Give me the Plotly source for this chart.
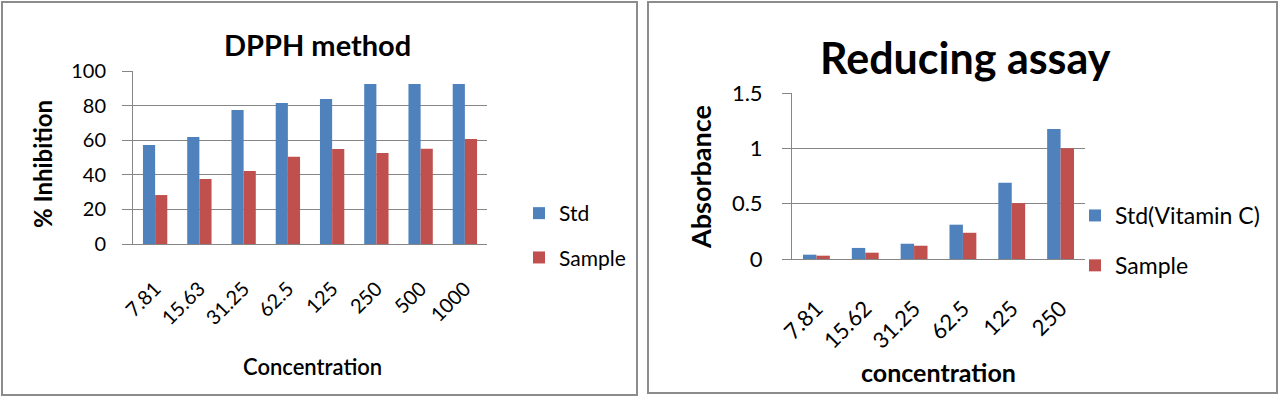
import plotly.graph_objects as go

# ---- data ----
dpph_conc = ["7.81", "15.63", "31.25", "62.5", "125", "250", "500", "1000"]
dpph_std = [57.2, 61.8, 77.5, 81.5, 83.8, 92.5, 92.5, 92.5]
dpph_sample = [28.3, 37.6, 42.2, 50.5, 54.9, 52.6, 55.0, 60.7]

red_conc = ["7.81", "15.62", "31.25", "62.5", "125", "250"]
red_std = [0.039, 0.10, 0.138, 0.31, 0.688, 1.174]
red_sample = [0.03, 0.057, 0.12, 0.237, 0.505, 1.0]

BLUE = "#4F81BD"
RED = "#C0504D"
GRID = "#868686"
FONT = "Lato, sans-serif"
W, H = 1279, 397


def px(x):
    return x / W


def py(y):
    return 1 - y / H


fig = go.Figure()

fig.add_trace(go.Bar(x=dpph_conc, y=dpph_std, name="Std", marker_color=BLUE,
                     xaxis="x", yaxis="y", legend="legend", legendgroup="a"))
fig.add_trace(go.Bar(x=dpph_conc, y=dpph_sample, name="Sample", marker_color=RED,
                     xaxis="x", yaxis="y", legend="legend", legendgroup="b"))
fig.add_trace(go.Bar(x=red_conc, y=red_std, name="Std(Vitamin C)", marker_color=BLUE,
                     xaxis="x2", yaxis="y2", legend="legend2", legendgroup="c"))
fig.add_trace(go.Bar(x=red_conc, y=red_sample, name="Sample", marker_color=RED,
                     xaxis="x2", yaxis="y2", legend="legend2", legendgroup="d"))

fig.update_layout(
    template="none",
    width=W, height=H, autosize=False,
    margin=dict(l=0, r=0, t=0, b=0, pad=0),
    paper_bgcolor="white", plot_bgcolor="white",
    font=dict(family=FONT, color="black"),
    barmode="group",
    bargap=0.45, bargroupgap=0,
    xaxis=dict(domain=[px(133), px(487)], anchor="y", type="category",
               automargin=False, tickangle=-45, tickfont=dict(size=20),
               showline=True, linecolor=GRID, linewidth=1.3, showgrid=False,
               ticks="outside", ticklen=24, tickcolor="rgba(0,0,0,0)"),
    yaxis=dict(domain=[py(244), py(71)], anchor="x", range=[0, 100], dtick=20,
               automargin=False, tickfont=dict(size=20), showline=True,
               linecolor=GRID, gridcolor=GRID, gridwidth=1.3, zeroline=False,
               ticks="outside", ticklen=10, tickcolor=GRID, ticklabelstandoff=12),
    xaxis2=dict(domain=[px(792), px(1085)], anchor="y2", type="category",
                automargin=False, tickangle=-45, tickfont=dict(size=22),
                showline=True, linecolor=GRID, showgrid=False,
                ticks="outside", ticklen=27, tickcolor="rgba(0,0,0,0)"),
    yaxis2=dict(domain=[py(259), py(93)], anchor="x2", range=[0, 1.5], dtick=0.5,
                automargin=False, tickfont=dict(size=22), showline=True,
                linecolor=GRID, gridcolor=GRID, zeroline=False,
                ticks="outside", ticklen=9, tickcolor=GRID, ticklabelstandoff=15),
    legend=dict(x=px(519), y=py(193), xanchor="left", yanchor="top",
                font=dict(size=21), tracegroupgap=14, bgcolor="rgba(0,0,0,0)"),
    legend2=dict(x=px(1075), y=py(194), xanchor="left", yanchor="top",
                 font=dict(size=23), tracegroupgap=17, bgcolor="rgba(0,0,0,0)"),
    annotations=[
        dict(text="<b>DPPH method</b>", x=px(317), y=py(44), xref="paper", yref="paper",
             showarrow=False, font=dict(size=29), xanchor="center", yanchor="middle"),
        dict(text="<b>Reducing assay</b>", x=px(965), y=py(57), xref="paper", yref="paper",
             showarrow=False, font=dict(size=43), xanchor="center", yanchor="middle"),
        dict(text="Concentration", x=px(312), y=py(366), xref="paper", yref="paper",
             showarrow=False, font=dict(size=22, weight=600), xanchor="center", yanchor="middle"),
        dict(text="<b>% Inhibition</b>", x=px(42), y=py(164), xref="paper", yref="paper",
             showarrow=False, font=dict(size=24), textangle=-90,
             xanchor="center", yanchor="middle"),
        dict(text="<b>Absorbance</b>", x=px(700), y=py(177), xref="paper", yref="paper",
             showarrow=False, font=dict(size=27), textangle=-90,
             xanchor="center", yanchor="middle"),
        dict(text="<b>concentration</b>", x=px(938), y=py(372), xref="paper", yref="paper",
             showarrow=False, font=dict(size=25), xanchor="center", yanchor="middle"),
    ],
    shapes=[
        dict(type="rect", xref="paper", yref="paper", x0=px(2), x1=px(637), y0=py(395), y1=py(2),
             line=dict(color="#8C8C8C", width=2)),
        dict(type="rect", xref="paper", yref="paper", x0=px(648), x1=px(1277), y0=py(393), y1=py(2),
             line=dict(color="#8C8C8C", width=2)),
    ],
)

fig.write_html("out.html",
               config={"displayModeBar": False},
               post_script="document.body.style.margin='0px';document.body.style.overflow='hidden';")
